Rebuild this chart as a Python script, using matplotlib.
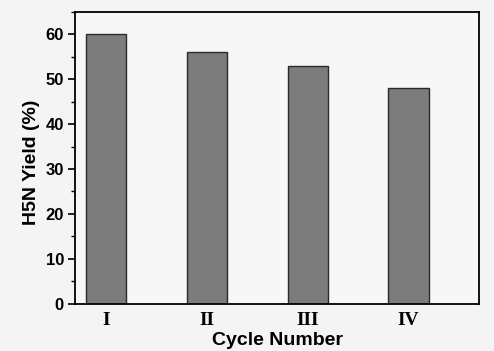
import matplotlib
matplotlib.use("Agg")
import matplotlib.pyplot as plt
from matplotlib.ticker import MultipleLocator

categories = ["I", "II", "III", "IV"]
yields = [60, 56, 53, 48]

fig = plt.figure(figsize=(4.94, 3.51), dpi=100, facecolor="#f4f4f4")
ax = fig.add_axes([75/494, 1-303.5/351, 404/494, 291.5/351])
ax.set_facecolor("#f7f7f7")

x = list(range(1, len(categories) + 1))
ax.bar(x, yields, width=0.4, color="#7c7c7c", edgecolor="#2a2a2a", linewidth=1.0)

ax.set_xlim(0.69, 4.70)
ax.set_ylim(0, 65)
ax.set_xticks(x)
ax.set_xticklabels(categories, fontfamily="Liberation Serif", fontweight="bold", fontsize=14)
ax.tick_params(axis="x", length=0, pad=6)
ax.yaxis.set_major_locator(MultipleLocator(10))
ax.yaxis.set_minor_locator(MultipleLocator(5))
ax.tick_params(axis="y", which="major", length=5, width=1.2, direction="out", pad=3)
ax.tick_params(axis="y", which="minor", length=3, width=1.0, direction="out")
for lab in ax.get_yticklabels():
    lab.set_fontfamily("Liberation Sans")
    lab.set_fontweight("bold")
    lab.set_fontsize(12)

for s in ax.spines.values():
    s.set_linewidth(1.3)
    s.set_color("black")

ax.set_xlabel("Cycle Number", fontfamily="Liberation Sans", fontweight="bold", fontsize=14, labelpad=2)
ax.set_ylabel("H5N Yield (%)", fontfamily="Liberation Sans", fontweight="bold", fontsize=14)
ax.yaxis.set_label_coords(-0.086, 0.485)

fig.savefig("out.png", dpi=100, facecolor=fig.get_facecolor())
